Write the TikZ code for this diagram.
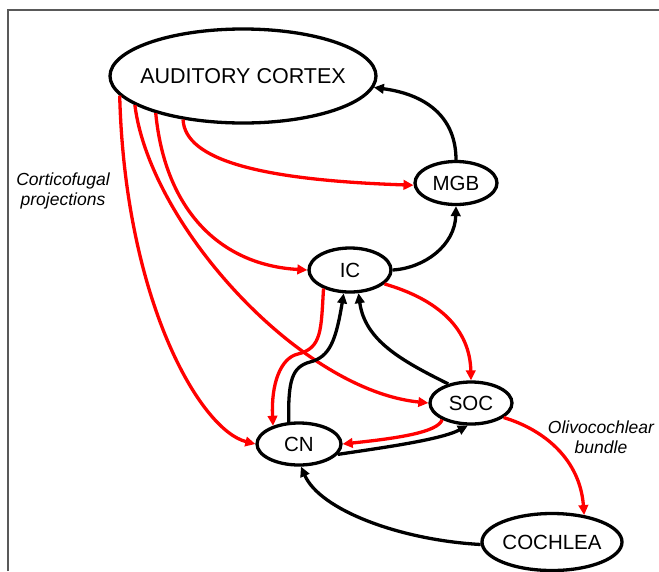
\documentclass[tikz,border=0pt]{standalone}
\usepackage{fontspec}
\setmainfont{Liberation Sans}
\usetikzlibrary{shapes.geometric,arrows.meta}
\begin{document}
\begin{tikzpicture}[x=1pt,y=-1pt,
  region/.style={ellipse,draw=black,line width=3.3pt,inner sep=0pt,fill=white,
    font=\fontsize{20.5}{24}\selectfont},
  note/.style={align=center,font=\itshape\fontsize{17.5}{20}\selectfont,inner sep=0pt},
  conn/.style={line width=3.3pt,-{Triangle[length=10pt,width=9.5pt]}},
  redc/.style={conn,draw=red},
  blackc/.style={conn,draw=black}]
\useasboundingbox (0,0) rectangle (659,571);
\draw[line width=1.5pt,draw=black!65] (8,571) -- (8,10) -- (659,10);
% nodes
\node[region,minimum width=266pt,minimum height=94pt,
  label={[font=\fontsize{21.5}{25}\selectfont,inner sep=0pt]center:AUDITORY CORTEX}] (AC) at (243,76) {};
\node[region,minimum width=82pt,minimum height=43pt] (MGB) at (456,183) {MGB};
\node[region,minimum width=82pt,minimum height=44pt] (IC) at (350,270) {IC};
\node[region,minimum width=82pt,minimum height=42pt] (SOC) at (471,403) {SOC};
\node[region,minimum width=84pt,minimum height=42pt] (CN) at (299,444) {CN};
\node[region,minimum width=140pt,minimum height=57pt,
  label={[font=\fontsize{20.5}{24}\selectfont,inner sep=0pt]center:COCHLEA}] (COCH) at (552,542) {};
\node[note] (cf) at (63,191) {Corticofugal\\projections};
\node[note] (oc) at (601,437) {Olivocochlear\\bundle};
% corticofugal projections
\draw[redc] (AC.216) .. controls (185,160) and (260,180) .. (MGB.183);
\draw[redc] (AC.203) .. controls (165,210) and (220,265) .. (IC.180);
\draw[redc] (AC.195) .. controls (150,225) and (300,390) .. (SOC.180);
\draw[redc] (AC.189) .. controls (125,300) and (200,430) .. (CN.180);
% brainstem
\draw[redc] (IC.215) .. controls (321,330) and (322,348) .. (298,354) .. controls (280,358) and (271,385) .. (CN.145);
\draw[blackc] (CN.115) .. controls (288,380) and (292,367) .. (310,362) .. controls (330,357) and (336,340) .. (IC.255);
\draw[blackc] (SOC.140) .. controls (400,360) and (365,340) .. (IC.290);
\draw[redc] (IC.338) .. controls (440,300) and (470,330) .. (SOC.north);
\draw[redc] (SOC.210) .. controls (438,432) and (400,438) .. (CN.east);
\draw[blackc] (CN.345) .. controls (380,448) and (440,440) .. (SOC.262);
\draw[blackc] (COCH.182) .. controls (400,540) and (320,510) .. (CN.275);
\draw[redc] (SOC.336) .. controls (545,430) and (580,460) .. (COCH.40);
\draw[blackc] (IC.east) .. controls (425,268) and (455,245) .. (MGB.south);
\draw[blackc] (MGB.north) .. controls (456,120) and (430,95) .. (AC.355);
\end{tikzpicture}
\end{document}
